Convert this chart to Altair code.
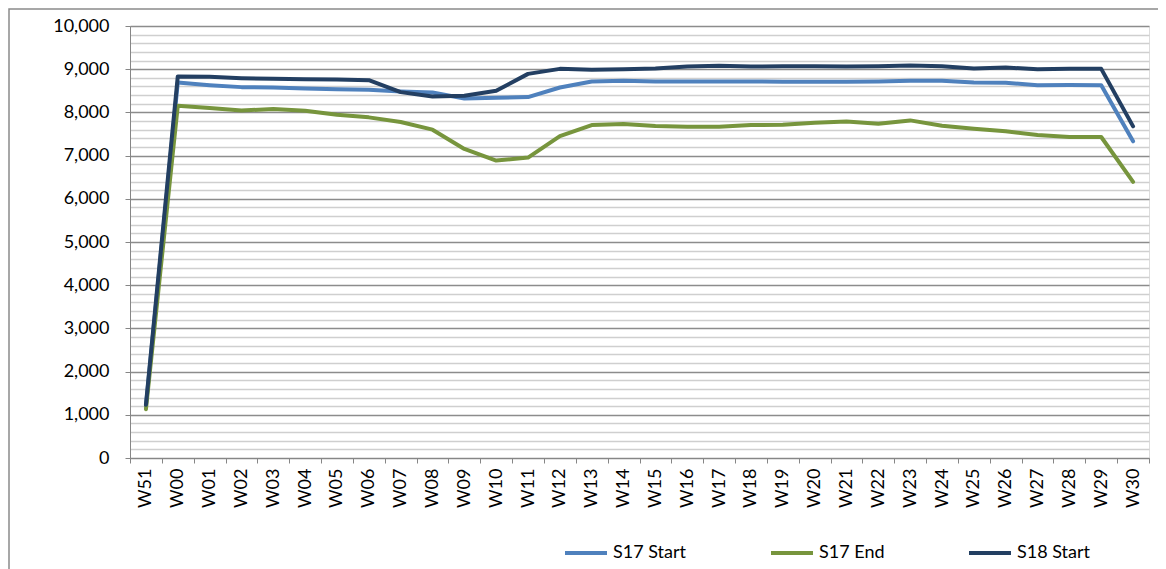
import altair as alt
import pandas as pd

weeks = ["W51", "W00", "W01", "W02", "W03", "W04", "W05", "W06", "W07", "W08",
         "W09", "W10", "W11", "W12", "W13", "W14", "W15", "W16", "W17", "W18",
         "W19", "W20", "W21", "W22", "W23", "W24", "W25", "W26", "W27", "W28",
         "W29", "W30"]

s17_start = [1200, 8690, 8630, 8585, 8577, 8554, 8538, 8523, 8485, 8462,
             8323, 8338, 8354, 8577, 8715, 8731, 8715, 8715, 8715, 8715,
             8710, 8710, 8710, 8715, 8731, 8731, 8692, 8685, 8631, 8635,
             8631, 7331]

s17_end = [1130, 8154, 8100, 8046, 8077, 8038, 7946, 7885, 7777, 7600,
           7154, 6885, 6954, 7450, 7708, 7731, 7685, 7669, 7669, 7708,
           7715, 7762, 7792, 7738, 7815, 7692, 7623, 7562, 7477, 7431,
           7431, 6392]

s18_start = [1230, 8831, 8823, 8792, 8777, 8770, 8762, 8746, 8469, 8369,
             8385, 8500, 8892, 9008, 8985, 9000, 9015, 9062, 9077, 9062,
             9069, 9069, 9062, 9069, 9085, 9069, 9015, 9038, 9000, 9008,
             9008, 7677]

series_names = ["S17 Start", "S17 End", "S18 Start"]
series_colors = ["#4F81BD", "#77953D", "#233F62"]

rows = []
for name, vals in zip(series_names, [s17_start, s17_end, s18_start]):
    for w, v in zip(weeks, vals):
        rows.append({"week": w, "value": v, "series": name})
df = pd.DataFrame(rows)

FONT = "Lato"

lines = alt.Chart(df).mark_line(strokeWidth=4, strokeCap="round", strokeJoin="round").encode(
    x=alt.X("week:N", sort=weeks, bandPosition=0.5,
            scale=alt.Scale(type="band", paddingInner=0, paddingOuter=0),
            axis=alt.Axis(title=None, labelAngle=270, tickBand="extent",
                          labelFont=FONT, labelFontSize=18, labelColor="#000",
                          tickSize=5, tickColor="#868686", domainColor="#868686",
                          labelPadding=5, grid=False, labelOverlap=False)),
    y=alt.Y("value:Q",
            scale=alt.Scale(domain=[0, 10000], nice=False),
            axis=alt.Axis(title=None, values=list(range(0, 10001, 200)),
                          labelExpr="datum.value % 1000 === 0 ? format(datum.value, ',') : ''",
                          labelFont=FONT, labelFontSize=18, labelColor="#000",
                          labelOverlap=False, labelFlush=False,
                          labelPadding=16, tickSize=5,
                          tickColor="#868686", domainColor="#868686",
                          tickOpacity={"condition": {"test": "datum.value % 1000 === 0", "value": 1}, "value": 0},
                          gridColor={"condition": {"test": "datum.value % 1000 === 0", "value": "#8C8C8C"}, "value": "#CFCFCF"},
                          gridWidth=1.4)),
    color=alt.Color("series:N", sort=series_names,
                    scale=alt.Scale(domain=series_names, range=series_colors),
                    legend=alt.Legend(title=None, orient="none", direction="horizontal",
                                      legendX=433, legendY=504,
                                      symbolType="stroke", symbolSize=1764,
                                      symbolStrokeWidth=4, labelFont=FONT,
                                      labelFontSize=18, labelColor="#000",
                                      labelOffset=4, columnPadding=76)),
)

border = alt.Chart(pd.DataFrame({"k": [0]})).mark_rect(
    fillOpacity=0, stroke="#8A8A8A", strokeWidth=1.5
).encode(
    x=alt.value(-121), x2=alt.value(1030), y=alt.value(-17), y2=alt.value(560)
)

chart = alt.layer(border, lines).properties(
    width=1019, height=432,
    autosize=alt.AutoSizeParams(type="none"),
    padding={"left": 122, "top": 18, "right": 9, "bottom": 111},
).configure_view(stroke=None).configure(background="white")

chart.save("out.html", embed_options={"renderer": "svg", "actions": False})
